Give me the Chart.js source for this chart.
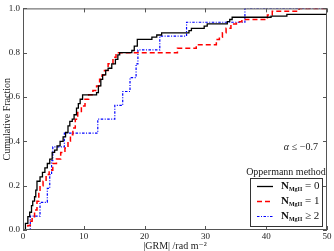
<!DOCTYPE html>
<html>
<head>
<meta charset="utf-8">
<script src="https://cdn.jsdelivr.net/npm/chart.js@4"></script>
<style>
  html, body { margin: 0; padding: 0; background: #fff; }
  #wrap { width: 334px; height: 251px; }
</style>
</head>
<body>
<div id="wrap"><canvas id="chart" width="334" height="251"></canvas></div>
<script>
// step points of the cumulative curves (|GRM| value, fraction after the step)
const grm0 = [0, 0.4, 0.8, 1.1, 1.4, 1.6, 1.9, 2.1, 2.3, 2.8, 3.2, 3.6, 4.0, 4.4, 4.8, 5.2, 5.6, 6.1, 6.6, 7.0, 7.4, 7.7, 8.1, 8.4, 8.8, 9.1, 9.4, 9.8, 12.1, 12.4, 12.8, 13.1, 13.6, 14.0, 14.6, 15.2, 15.6, 15.9, 17.9, 18.3, 18.8, 21.2, 22.0, 22.8, 27.3, 27.7, 29.8, 30.3, 33.6, 34.0, 34.4, 40.8, 43.4, 50];
const frac0 = [0, 0.03, 0.06, 0.08, 0.11, 0.13, 0.15, 0.18, 0.22, 0.24, 0.26, 0.28, 0.30, 0.32, 0.35, 0.36, 0.38, 0.40, 0.42, 0.44, 0.47, 0.49, 0.50, 0.52, 0.55, 0.57, 0.59, 0.61, 0.62, 0.65, 0.68, 0.70, 0.72, 0.73, 0.75, 0.77, 0.79, 0.80, 0.81, 0.83, 0.86, 0.87, 0.88, 0.89, 0.90, 0.91, 0.92, 0.93, 0.94, 0.95, 0.96, 0.965, 0.973, 0.973];

const grm1 = [0, 0.8, 1.2, 1.5, 1.9, 2.3, 2.6, 2.8, 3.3, 3.8, 4.3, 4.9, 5.5, 6.2, 6.9, 7.4, 7.8, 8.2, 8.6, 9.0, 9.6, 10.2, 10.8, 11.5, 12.1, 12.6, 13.0, 13.4, 14.0, 14.8, 15.3, 25.4, 28.5, 31.8, 32.3, 32.8, 33.4, 34.2, 35.1, 36.0, 40.2, 41.0, 45.4, 50];
const frac1 = [0, 0.02, 0.04, 0.06, 0.09, 0.13, 0.17, 0.20, 0.22, 0.25, 0.27, 0.30, 0.32, 0.35, 0.37, 0.40, 0.43, 0.46, 0.50, 0.53, 0.56, 0.59, 0.61, 0.63, 0.65, 0.68, 0.70, 0.72, 0.75, 0.78, 0.80, 0.82, 0.836, 0.86, 0.87, 0.89, 0.91, 0.93, 0.94, 0.95, 0.97, 0.987, 1.0, 1.0];

const grm2 = [0, 1.2, 2.8, 4.0, 4.4, 4.7, 4.9, 6.8, 12.3, 15.1, 16.4, 17.6, 18.6, 18.9, 22.5, 26.9, 36.5, 50];
const frac2 = [0, 0.0625, 0.125, 0.1875, 0.25, 0.3125, 0.375, 0.4375, 0.5, 0.5625, 0.625, 0.6875, 0.75, 0.8125, 0.875, 0.9375, 1.0, 1.0];

const seriesNames = ['N_MgII = 0', 'N_MgII = 1', 'N_MgII ≥ 2'];
const xTicks = [0, 10, 20, 30, 40, 50];
const yTicks = [0.0, 0.2, 0.4, 0.6, 0.8, 1.0];

const serif = "'Liberation Serif', 'DejaVu Serif', serif";
const frameColor = '#555';

function toPoints(xs, ys) {
    return xs.map((x, i) => ({ x: x, y: ys[i] }));
}

// inward ticks on all four sides, legend and annotation drawn by hand
const decorations = {
    id: 'decorations',
    afterDraw(chart) {
        const ctx = chart.ctx;
        const area = chart.chartArea;
        const xs = chart.scales.x, ys = chart.scales.y;
        ctx.save();
        ctx.strokeStyle = frameColor;
        ctx.lineWidth = 1;
        ctx.strokeRect(area.left + 0.5, area.top + 0.5, area.right - area.left - 1, area.bottom - area.top - 1);
        ctx.beginPath();
        xTicks.forEach(v => {
            const px = Math.round(xs.getPixelForValue(v)) + 0.5;
            ctx.moveTo(px, area.bottom); ctx.lineTo(px, area.bottom - 4);
            ctx.moveTo(px, area.top); ctx.lineTo(px, area.top + 4);
        });
        yTicks.forEach(v => {
            const py = Math.round(ys.getPixelForValue(v)) + 0.5;
            ctx.moveTo(area.left, py); ctx.lineTo(area.left + 4, py);
            ctx.moveTo(area.right, py); ctx.lineTo(area.right - 4, py);
        });
        ctx.stroke();

        // alpha annotation
        ctx.fillStyle = '#222';
        ctx.textBaseline = 'middle';
        ctx.textAlign = 'right';
        ctx.font = '10px ' + serif;
        ctx.fillText('≤ −0.7', 318, 147);
        ctx.font = 'italic 10px ' + serif;
        ctx.fillText('α', 289, 147);

        // legend
        const box = { left: 250.5, top: 178.5, width: 72, height: 48 };
        ctx.textAlign = 'center';
        ctx.font = '10px ' + serif;
        ctx.fillStyle = '#222';
        ctx.fillText('Oppermann method', 286, 172);
        ctx.fillStyle = '#fff';
        ctx.fillRect(box.left, box.top, box.width, box.height);
        ctx.strokeStyle = '#333';
        ctx.setLineDash([]);
        ctx.strokeRect(box.left, box.top, box.width, box.height);

        const rows = [186, 201, 216];
        chart.data.datasets.forEach((ds, i) => {
            const y = rows[i];
            ctx.strokeStyle = ds.borderColor;
            ctx.lineWidth = ds.borderWidth;
            ctx.setLineDash(ds.borderDash || []);
            ctx.beginPath();
            ctx.moveTo(257, y + 0.5);
            ctx.lineTo(273, y + 0.5);
            ctx.stroke();
            ctx.setLineDash([]);

            const name = seriesNames[i];
            const sub = name.slice(name.indexOf('_') + 1, name.indexOf(' '));
            const rest = name.slice(name.indexOf(' '));
            ctx.fillStyle = '#111';
            ctx.textAlign = 'left';
            let x = 281;
            ctx.font = 'bold 11px ' + serif;
            ctx.fillText('N', x, y);
            x += ctx.measureText('N').width;
            ctx.font = 'bold 6px ' + serif;
            ctx.fillText(sub, x, y + 3);
            x += ctx.measureText(sub).width;
            ctx.font = '11px ' + serif;
            ctx.fillText(rest, x, y);
        });
        ctx.restore();
    }
};

const ctx = document.getElementById('chart').getContext('2d');
new Chart(ctx, {
    type: 'line',
    data: {
        datasets: [{
            label: seriesNames[0],
            data: toPoints(grm0, frac0),
            borderColor: '#000000',
            borderWidth: 1.3,
            stepped: true
        }, {
            label: seriesNames[1],
            data: toPoints(grm1, frac1),
            borderColor: '#ff0000',
            borderWidth: 1.5,
            borderDash: [5, 3],
            stepped: true
        }, {
            label: seriesNames[2],
            data: toPoints(grm2, frac2),
            borderColor: '#0000ff',
            borderWidth: 1.2,
            borderDash: [2.5, 1.5, 1, 1.5],
            stepped: true
        }]
    },
    options: {
        responsive: false,
        animation: false,
        layout: { padding: { left: 0, right: 7, top: 4, bottom: 0 } },
        elements: { point: { radius: 0 } },
        plugins: {
            legend: { display: false },
            tooltip: { enabled: false }
        },
        scales: {
            x: {
                type: 'linear',
                min: 0,
                max: 50,
                afterFit: s => { s.height = 21; },
                afterBuildTicks: s => { s.ticks = xTicks.map(v => ({ value: v })); },
                grid: { display: false, drawTicks: false },
                border: { display: false },
                ticks: {
                    padding: 1,
                    color: '#222',
                    font: { family: serif, size: 9 },
                    callback: v => String(v)
                },
                title: {
                    display: true,
                    text: '|GRM| /rad m⁻²',
                    color: '#222',
                    padding: { top: 0, bottom: -1 },
                    font: { family: serif, size: 10 }
                }
            },
            y: {
                type: 'linear',
                min: 0,
                max: 1,
                afterFit: s => { s.width = 23; },
                afterBuildTicks: s => { s.ticks = yTicks.map(v => ({ value: v })); },
                grid: { display: false, drawTicks: false },
                border: { display: false },
                ticks: {
                    padding: 3,
                    color: '#222',
                    font: { family: serif, size: 9 },
                    callback: v => v.toFixed(1)
                },
                title: {
                    display: true,
                    text: 'Cumulative Fraction',
                    color: '#222',
                    padding: { top: 1, bottom: 0 },
                    font: { family: serif, size: 10 }
                }
            }
        }
    },
    plugins: [decorations]
});
</script>
</body>
</html>
